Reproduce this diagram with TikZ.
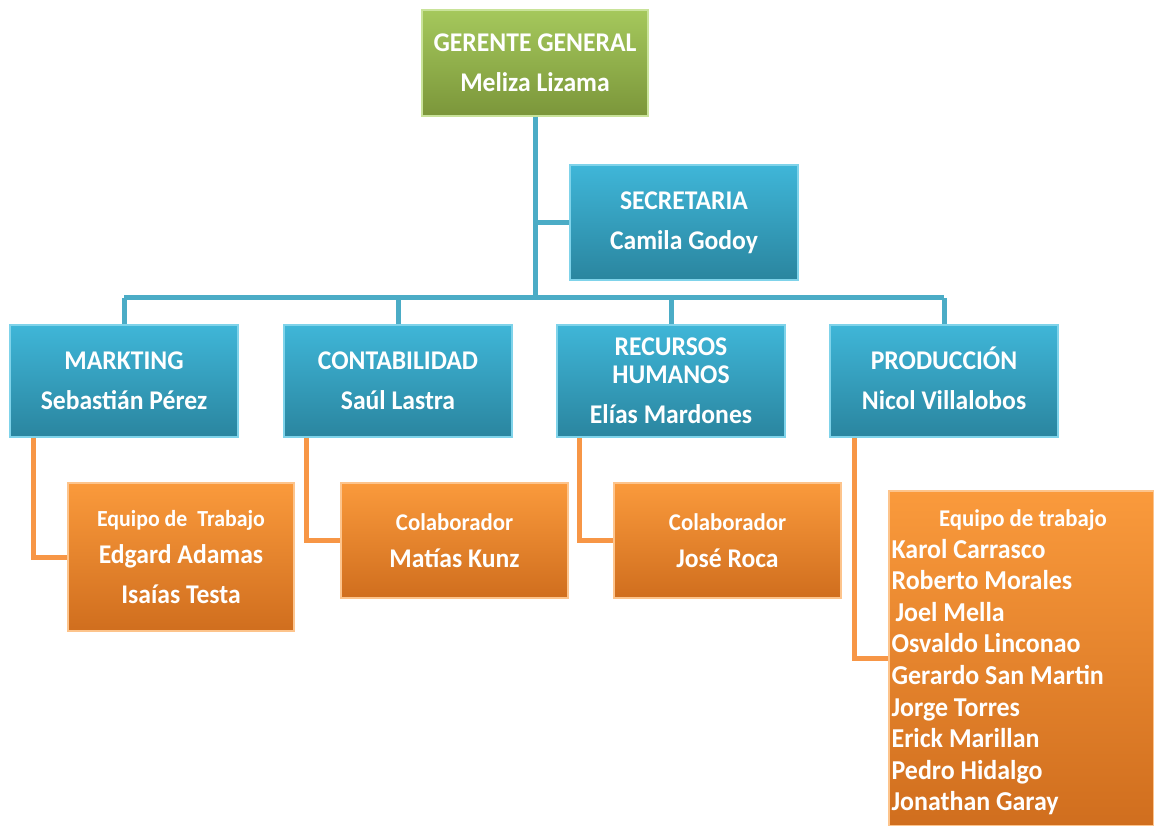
\documentclass[tikz,border=0pt]{standalone}
\usepackage{fontspec}
\newfontfamily\carl[FakeStretch=0.95]{Carlito}
\definecolor{bluetop}{HTML}{3FB6D8}
\definecolor{bluebot}{HTML}{2A859F}
\definecolor{blueedge}{HTML}{7FD3EA}
\definecolor{bluecon}{HTML}{4BACC6}
\definecolor{greentop}{HTML}{A5C85C}
\definecolor{greenbot}{HTML}{7B963A}
\definecolor{greenedge}{HTML}{C9E39A}
\definecolor{orangetop}{HTML}{FA9A3C}
\definecolor{orangebot}{HTML}{D06E1E}
\definecolor{orangeedge}{HTML}{FDC48C}
\definecolor{orangecon}{HTML}{F79646}

\begin{document}
\begin{tikzpicture}[x=1pt,y=-1pt,
    box/.style={inner sep=0, align=center, text=white,
      font=\carl\bfseries\fontsize{27}{40}\selectfont, line width=1.2},
    bluebox/.style={box, minimum width=228, minimum height=112,
      top color=bluetop, bottom color=bluebot, draw=blueedge},
    greenbox/.style={box, top color=greentop, bottom color=greenbot, draw=greenedge},
    orangebox/.style={box, top color=orangetop, bottom color=orangebot, draw=orangeedge},
    small/.style={font=\carl\bfseries\fontsize{24}{28}\selectfont},
    bline/.style={line width=5, draw=bluecon},
    oline/.style={line width=5, draw=orangecon}]
  \useasboundingbox (0,0) rectangle (1154,826);
  \coordinate (bus) at (0,298);

  \node[greenbox, minimum width=226, minimum height=106] (g) at (535,63)
    {GERENTE GENERAL\\Meliza Lizama};
  \node[bluebox, minimum height=115] (sec) at (684,222.5)
    {SECRETARIA\\Camila Godoy};

  \node[bluebox] (m) at (124,381) {MARKTING\\Sebastián Pérez};
  \node[bluebox] (c) at (398,381) {CONTABILIDAD\\Saúl Lastra};
  \node[bluebox] (r) at (671,381) {RECURSOS\\[-12pt]HUMANOS\\Elías Mardones};
  \node[bluebox] (p) at (944,381) {PRODUCCI\smash{Ó}N\\Nicol Villalobos};

  \node[orangebox, minimum width=226, minimum height=148] (eq) at (181,557)
    {{\fontsize{23}{27}\selectfont Equipo de\ \ Trabajo}\\[-3pt]Edgard Adamas\\Isaías Testa};
  \node[orangebox, minimum width=227, minimum height=115] (col1) at (454.5,540.5)
    {{\fontsize{24}{28}\selectfont Colaborador}\\[-3pt]Matías Kunz};
  \node[orangebox, minimum width=227, minimum height=115] (col2) at (727.5,540.5)
    {{\fontsize{24}{28}\selectfont Colaborador}\\[-3pt]José Roca};

  \node[orangebox, minimum width=265, minimum height=335] (team) at (1021.5,658.5) {};
  \node[small, text=white, inner sep=0] (teamt) at (1023,520) {Equipo de trabajo};
  \node[box, align=left, anchor=base west, font=\carl\bfseries\fontsize{27.3}{31.6}\selectfont]
    (teaml) at (891,810.8)
    {Karol Carrasco\\Roberto Morales\\\hspace{4pt}Joel Mella\\Osvaldo Linconao\\
     Gerardo San Martin\\Jorge Torres\\Erick Marillan\\Pedro Hidalgo\\Jonathan Garay};

  \draw[bline] (g.south) -- (g.south |- bus);
  \draw[bline] (g.south |- sec.west) -- (sec.west);
  \draw[bline] (m.north |- bus) -- (p.north |- bus);
  \foreach \n in {m,c,r,p}
    \draw[bline] (\n.north |- bus) -- (\n.north);

  \draw[oline] ([xshift=24]m.south west) |- (eq.west);
  \draw[oline] ([xshift=23]c.south west) |- (col1.west);
  \draw[oline] ([xshift=23]r.south west) |- (col2.west);
  \draw[oline] ([xshift=25]p.south west) |- (team.west);
\end{tikzpicture}
\end{document}
